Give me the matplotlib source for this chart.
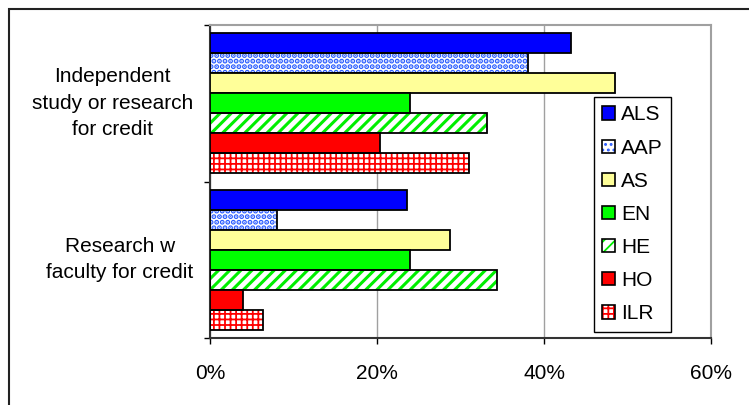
import matplotlib
matplotlib.use("Agg")
import matplotlib.pyplot as plt
import numpy as np
from matplotlib.patches import Patch, Rectangle
from matplotlib.legend_handler import HandlerTuple

plt.rcParams['font.family'] = ['Liberation Sans', 'DejaVu Sans']

categories = ["Independent\nstudy or research\nfor credit", "Research w\nfaculty for credit"]
series = ["ALS", "AAP", "AS", "EN", "HE", "HO", "ILR"]
values = {
    "ALS": [43.2, 23.6],
    "AAP": [38.1, 8.0],
    "AS":  [48.5, 28.7],
    "EN":  [24.0, 24.0],
    "HE":  [33.2, 34.4],
    "HO":  [20.3, 4.0],
    "ILR": [31.0, 6.4],
}
xticks = [0, 20, 40, 60]
xticklabels = ["0%", "20%", "40%", "60%"]

# style: (facecolor, hatch, hatchcolor)
styles = {
    "ALS": ("#0000FF", None, None),
    "AAP": ("#FFFFFF", "...", "#2A5CFF"),
    "AS":  ("#FFFF99", None, None),
    "EN":  ("#00FF00", None, None),
    "HE":  ("#FFFFFF", "///", "#00EE00"),
    "HO":  ("#FF0000", None, None),
    "ILR": ("#FFFFFF", "+++", "#FF0000"),
}

FS = 15
W, H = 749, 405
fig = plt.figure(figsize=(W / 100, H / 100), dpi=100)
ax = fig.add_axes([210 / W, 1 - 338 / H, (711 - 210) / W, (338 - 25) / H])

n = len(series)
bh = 0.1278
y0 = np.arange(len(categories))
handles = []
for i, s in enumerate(series):
    fc, hatch, hc = styles[s]
    ypos = y0 - (n - 1) / 2 * bh + i * bh
    if hatch:
        plt.rcParams['hatch.linewidth'] = 2.2 if s == "HE" else (1.3 if s == "ILR" else 2.6)
        ax.barh(ypos, values[s], height=bh, color=fc, edgecolor=hc, hatch=hatch,
                linewidth=0, zorder=2)
        ax.barh(ypos, values[s], height=bh, color='none', edgecolor='black',
                linewidth=1.3, zorder=3)
        h = (Patch(facecolor=fc, edgecolor=hc, hatch=hatch, linewidth=0),
             Patch(facecolor='none', edgecolor='black', linewidth=1.2))
    else:
        ax.barh(ypos, values[s], height=bh, color=fc, edgecolor='black',
                linewidth=1.3, zorder=3)
        h = Patch(facecolor=fc, edgecolor='black', linewidth=1.2)
    handles.append(h)

ax.set_xlim(0, 60)
ax.set_ylim(len(categories) - 0.5, -0.5)
ax.set_xticks(xticks)
ax.set_xticklabels(xticklabels, fontsize=FS)
ax.set_yticks([-0.5, 0.5, 1.5])
ax.set_yticklabels([])
ax.set_yticks(y0, minor=True)
ax.set_yticklabels(categories, minor=True, fontsize=FS)
for t in ax.get_yticklabels(minor=True):
    t.set_multialignment('center')
    t.set_linespacing(1.5)
    t.set_verticalalignment('center')
ax.tick_params(axis='y', which='minor', length=0, pad=12)
ax.tick_params(axis='y', which='major', length=4, width=1, direction='out')
ax.tick_params(axis='x', length=4, width=1, direction='out', pad=15)
ax.xaxis.grid(True, color='#a0a0a0', linewidth=1)
ax.set_axisbelow(True)
for sp in ['top', 'right']:
    ax.spines[sp].set_color('#a0a0a0')
    ax.spines[sp].set_linewidth(1.5)
for sp in ['left', 'bottom']:
    ax.spines[sp].set_color('#333333')
    ax.spines[sp].set_linewidth(1.5)

leg = ax.legend(handles, series, loc='upper left',
                bbox_to_anchor=((594 - 210) / 501, (338 - 97) / 313),
                handler_map={tuple: HandlerTuple(ndivide=1)},
                fontsize=FS, frameon=True, fancybox=False, framealpha=1,
                edgecolor='black', handlelength=0.6, handleheight=0.6,
                handletextpad=0.3, labelspacing=0.68, borderpad=0.4,
                borderaxespad=0)
leg.get_frame().set_linewidth(1)
leg.set_zorder(5)

fig.patches.append(Rectangle((9 / W, -0.1), 1.2, 1 - 9 / H + 0.1, transform=fig.transFigure,
                             fill=False, edgecolor='#222222', linewidth=1.5))

fig.savefig("out.png", dpi=100)
